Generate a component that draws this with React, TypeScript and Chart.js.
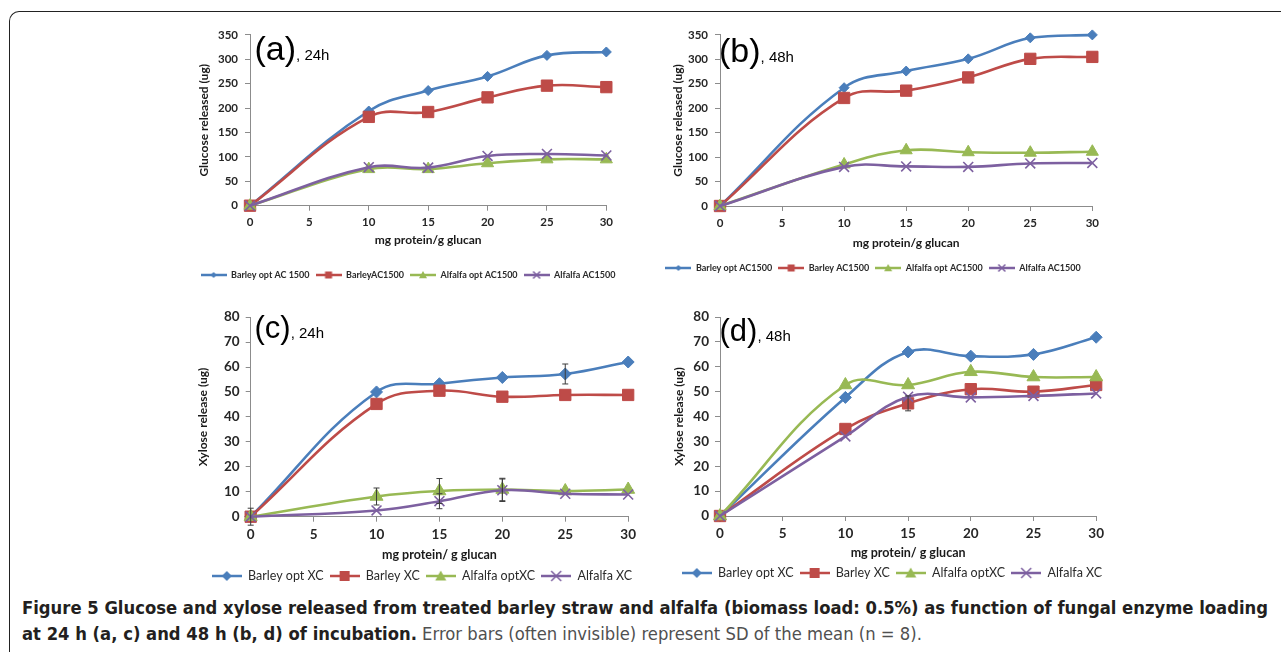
import React, { useEffect, useLayoutEffect, useRef } from 'react';
import { Chart, registerables } from 'chart.js';

Chart.register(...registerables);

// ---------- data ----------
const xValues = [0, 10, 15, 20, 25, 30];

// (a) glucose released, 24 h
const aBarleyOpt = [0, 194, 236, 265, 308, 315];
const aBarley = [0, 182, 192, 222, 246, 243];
const aAlfalfaOpt = [0, 75, 75, 87, 95, 95];
const aAlfalfa = [0, 79, 78, 102, 106, 103];

// (b) glucose released, 48 h
const bBarleyOpt = [0, 242, 276, 301, 344, 350];
const bBarley = [0, 221, 236, 263, 301, 305];
const bAlfalfaOpt = [0, 85, 114, 110, 109, 111];
const bAlfalfa = [0, 80, 81, 80, 87, 88];

// (c) xylose release, 24 h
const cBarleyOpt = [0, 50, 53.3, 55.8, 57.2, 62];
const cBarley = [0, 45.2, 50.5, 48.1, 48.8, 48.8];
const cAlfalfaOpt = [0, 8.1, 10.3, 10.9, 10.3, 10.9];
const cAlfalfa = [0, 2.5, 6.2, 10.6, 9.2, 8.9];
const cBarleyOptSD = [0, 0, 0, 0, 4, 0];
const cBarleySD = [0, 0, 0, 0, 0, 0];
const cAlfalfaOptSD = [3.4, 3.4, 5, 4.5, 0, 0];
const cAlfalfaSD = [0, 0, 3, 4.5, 0, 0];

// (d) xylose release, 48 h
const dBarleyOpt = [0, 47.7, 66, 64.3, 65, 71.9];
const dBarley = [0, 35, 45.3, 51, 50, 52.7];
const dAlfalfaOpt = [0, 52.7, 52.7, 58, 55.9, 55.9];
const dAlfalfa = [0, 32, 48, 47.7, 48.3, 49.3];
const dBarleySD = [0, 0, 3, 0, 0, 0];

const legendA = ['Barley opt AC 1500', 'BarleyAC1500', 'Alfalfa opt AC1500', 'Alfalfa AC1500'];
const legendB = ['Barley opt AC1500', 'Barley AC1500', 'Alfalfa opt AC1500', 'Alfalfa AC1500'];
const legendCD = ['Barley opt XC', 'Barley XC', 'Alfalfa optXC', 'Alfalfa XC'];

const xTickStep = 5;
const xMax = 30;
const glucoseMax = 350;
const glucoseStep = 50;
const xyloseMax = 80;
const xyloseStep = 10;

// ---------- styles ----------
const COLORS = ['#4A7EBB', '#BE4B48', '#98B954', '#7D60A0'];
const STYLES = ['rectRot', 'rect', 'triangle', 'crossRot'];
const FONT = 'Lato, "Open Sans", "DejaVu Sans", sans-serif';

function makeIcon(color: string, style: string, w: number, h: number, r: number, lw: number) {
  const c = document.createElement('canvas');
  c.width = w;
  c.height = h;
  const ctx = c.getContext('2d') as CanvasRenderingContext2D;
  const cx = w / 2;
  const cy = h / 2;
  ctx.strokeStyle = color;
  ctx.fillStyle = color;
  ctx.lineWidth = lw;
  ctx.beginPath();
  ctx.moveTo(0, cy);
  ctx.lineTo(w, cy);
  ctx.stroke();
  ctx.beginPath();
  if (style === 'rectRot') {
    ctx.moveTo(cx, cy - r);
    ctx.lineTo(cx + r, cy);
    ctx.lineTo(cx, cy + r);
    ctx.lineTo(cx - r, cy);
    ctx.closePath();
    ctx.fill();
  } else if (style === 'rect') {
    ctx.fillRect(cx - r, cy - r, 2 * r, 2 * r);
  } else if (style === 'triangle') {
    ctx.moveTo(cx, cy - r);
    ctx.lineTo(cx + r, cy + r * 0.8);
    ctx.lineTo(cx - r, cy + r * 0.8);
    ctx.closePath();
    ctx.fill();
  } else {
    ctx.lineWidth = 1.5;
    ctx.moveTo(cx - r, cy - r);
    ctx.lineTo(cx + r, cy + r);
    ctx.moveTo(cx + r, cy - r);
    ctx.lineTo(cx - r, cy + r);
    ctx.stroke();
  }
  return c;
}

const errorBarPlugin = {
  id: 'errorBars',
  afterDatasetsDraw(chart: any) {
    const ctx = chart.ctx;
    const xs = chart.scales.x;
    const ys = chart.scales.y;
    ctx.save();
    ctx.strokeStyle = '#3c3c3c';
    ctx.lineWidth = 1;
    chart.data.datasets.forEach((ds: any) => {
      const errs = ds.errors;
      if (!errs) return;
      ds.data.forEach((p: any, k: number) => {
        const e = errs[k];
        if (!e) return;
        const px = xs.getPixelForValue(p.x);
        const y1 = ys.getPixelForValue(p.y + e);
        const y2 = ys.getPixelForValue(p.y - e);
        ctx.beginPath();
        ctx.moveTo(px, y1);
        ctx.lineTo(px, y2);
        ctx.moveTo(px - 3, y1);
        ctx.lineTo(px + 3, y1);
        ctx.moveTo(px - 3, y2);
        ctx.lineTo(px + 3, y2);
        ctx.stroke();
      });
    });
    ctx.restore();
  },
};

type Series = { label: string; values: number[]; errors?: number[] };

type PanelCfg = {
  area: { left: number; right: number; top: number; bottom: number };
  yMax: number;
  yStep: number;
  yTitle: string;
  xTitle: string;
  yTitleX: number;
  xTitleY: number;
  legendY: number;
  legendCx: number;
  tickSize: number;
  yTitleSize: number;
  xTitleSize: number;
  legendSize: number;
  legendWeight: string;
  legendPad: number;
  yTickPad: number;
  xTickPad: number;
  pointRadius: number[];
  iconW: number;
  iconR: number[];
  series: Series[];
};

function Panel({ cfg }: { cfg: PanelCfg }) {
  const ref = useRef<HTMLCanvasElement>(null);
  const a = cfg.area;
  const yLH = cfg.yTitleSize * 1.2;
  const xLH = cfg.xTitleSize * 1.2;
  const canvasLeft = Math.floor(cfg.yTitleX - yLH / 2 - 40);
  const canvasTop = Math.floor(a.top - 12);
  const padTop = a.top - canvasTop;
  const canvasRight = Math.ceil(a.right + 10);
  const padR = canvasRight - a.right;
  const W = canvasRight - canvasLeft;
  const yW = a.left - canvasLeft;
  const yTitlePad = cfg.yTitleX - yLH / 2 - canvasLeft;
  const legFs = cfg.legendSize;
  const xH = cfg.legendY - legFs / 2 - cfg.legendPad - a.bottom;
  const gap = xH - (cfg.xTitleY + xLH / 2 - a.bottom);
  const legendH = legFs + cfg.legendPad + 10;
  const plotH = a.bottom - a.top;
  const H = Math.ceil(padTop + plotH + xH + legendH + 2);
  const padB = H - (padTop + plotH + xH + legendH);

  useEffect(() => {
    const canvas = ref.current as HTMLCanvasElement;
    const icons = cfg.series.map((s, i) =>
      makeIcon(COLORS[i], STYLES[i], cfg.iconW, 16, cfg.iconR[i], 2.5)
    );
    const legendShift = {
      id: 'legendShift',
      afterLayout(chart: any) {
        const lg = chart.legend;
        if (!lg) return;
        const cur = (lg.left + lg.right) / 2;
        const want = cfg.legendCx - canvasLeft;
        const dx = want - cur;
        lg.left += dx;
        lg.right += dx;
      },
    };
    const tickColor = '#262626';
    const axisColor = '#8c8c8c';
    const chart = new Chart(canvas, {
      type: 'line',
      data: {
        datasets: cfg.series.map((s, i) => ({
          label: s.label,
          data: xValues.map((x, k) => ({ x, y: s.values[k] })),
          errors: s.errors,
          borderColor: COLORS[i],
          backgroundColor: COLORS[i],
          pointBackgroundColor: COLORS[i],
          pointBorderColor: COLORS[i],
          pointStyle: STYLES[i],
          pointRadius: cfg.pointRadius[i],
          pointBorderWidth: STYLES[i] === 'crossRot' ? 1.6 : 1,
          borderWidth: 2.6,
          tension: 0.4,
          fill: false,
          clip: false,
          order: 3 - i,
        })) as any,
      },
      options: {
        animation: false,
        responsive: false,
        maintainAspectRatio: false,
        events: [],
        layout: { padding: { left: 0, right: padR, top: padTop, bottom: padB } },
        scales: {
          x: {
            type: 'linear',
            min: 0,
            max: xMax,
            afterFit: (s: any) => {
              s.height = xH;
            },
            ticks: {
              stepSize: xTickStep,
              autoSkip: false,
              maxRotation: 0,
              padding: cfg.xTickPad,
              color: tickColor,
              font: { family: FONT, size: cfg.tickSize, weight: 'bold' },
            },
            grid: { display: true, drawOnChartArea: false, drawTicks: true, tickLength: 5, color: axisColor },
            border: { display: true, color: axisColor, width: 1 },
            title: {
              display: true,
              text: cfg.xTitle,
              color: '#1a1a1a',
              padding: { top: 0, bottom: gap },
              font: { family: FONT, size: cfg.xTitleSize, weight: 'bold' },
            },
          },
          y: {
            type: 'linear',
            min: 0,
            max: cfg.yMax,
            afterFit: (s: any) => {
              s.width = yW;
            },
            ticks: {
              stepSize: cfg.yStep,
              padding: cfg.yTickPad,
              color: tickColor,
              font: { family: FONT, size: cfg.tickSize, weight: 'bold' },
            },
            grid: { display: true, drawOnChartArea: false, drawTicks: true, tickLength: 5, color: axisColor },
            border: { display: true, color: axisColor, width: 1 },
            title: {
              display: true,
              text: cfg.yTitle,
              color: '#1a1a1a',
              padding: { top: yTitlePad, bottom: 0 },
              font: { family: FONT, size: cfg.yTitleSize, weight: 'bold' },
            },
          },
        },
        plugins: {
          tooltip: { enabled: false },
          title: { display: false },
          legend: {
            display: true,
            position: 'bottom',
            labels: {
              usePointStyle: true,
              pointStyleWidth: cfg.iconW,
              padding: cfg.legendPad,
              color: '#2a2a2a',
              font: { family: FONT, size: legFs, weight: cfg.legendWeight },
              generateLabels: (chart: any) => {
                const items = (Chart.defaults.plugins.legend.labels as any).generateLabels(chart);
                items.forEach((it: any) => {
                  it.pointStyle = icons[it.datasetIndex];
                  it.lineWidth = 0;
                  it.fontColor = '#2a2a2a';
                });
                return items.sort((p: any, q: any) => p.datasetIndex - q.datasetIndex);
              },
            },
          },
        },
      } as any,
      plugins: [errorBarPlugin, legendShift],
    });
    return () => chart.destroy();
  }, []);

  return (
    <canvas
      ref={ref}
      width={W}
      height={H}
      style={{ position: 'absolute', left: canvasLeft, top: canvasTop, width: W, height: H }}
    />
  );
}

const panelA: PanelCfg = {
  area: { left: 250, right: 608, top: 33.3, bottom: 205.7 },
  yMax: glucoseMax,
  yStep: glucoseStep,
  yTitle: 'Glucose released (ug)',
  xTitle: 'mg protein/g glucan',
  yTitleX: 204,
  xTitleY: 240,
  legendY: 275,
  legendCx: 408,
  tickSize: 11.5,
  yTitleSize: 12,
  xTitleSize: 12,
  legendSize: 9,
  legendWeight: 'bold',
  legendPad: 6,
  yTickPad: 7,
  xTickPad: 5,
  pointRadius: [5, 8, 7, 7],
  iconW: 26,
  iconR: [3, 3.5, 4, 3.5],
  series: [
    { label: legendA[0], values: aBarleyOpt },
    { label: legendA[1], values: aBarley },
    { label: legendA[2], values: aAlfalfaOpt },
    { label: legendA[3], values: aAlfalfa },
  ],
};

const panelB: PanelCfg = {
  ...panelA,
  area: { left: 720, right: 1094, top: 33.3, bottom: 206 },
  yTitleX: 678,
  xTitleY: 242.7,
  legendY: 268,
  legendCx: 873,
  series: [
    { label: legendB[0], values: bBarleyOpt },
    { label: legendB[1], values: bBarley },
    { label: legendB[2], values: bAlfalfaOpt },
    { label: legendB[3], values: bAlfalfa },
  ],
};

const panelC: PanelCfg = {
  area: { left: 250.7, right: 630.7, top: 315.7, bottom: 516.7 },
  yMax: xyloseMax,
  yStep: xyloseStep,
  yTitle: 'Xylose release (ug)',
  xTitle: 'mg protein/ g glucan',
  yTitleX: 203,
  xTitleY: 555,
  legendY: 576,
  legendCx: 422,
  tickSize: 13.5,
  yTitleSize: 12,
  xTitleSize: 12.5,
  legendSize: 12.5,
  legendWeight: 'normal',
  legendPad: 6,
  yTickPad: 6,
  xTickPad: 5,
  pointRadius: [6, 8, 7.5, 7],
  iconW: 30,
  iconR: [5, 5, 5.5, 5],
  series: [
    { label: legendCD[0], values: cBarleyOpt, errors: cBarleyOptSD },
    { label: legendCD[1], values: cBarley, errors: cBarleySD },
    { label: legendCD[2], values: cAlfalfaOpt, errors: cAlfalfaOptSD },
    { label: legendCD[3], values: cAlfalfa, errors: cAlfalfaSD },
  ],
};

const panelD: PanelCfg = {
  ...panelC,
  area: { left: 720, right: 1099, top: 315.7, bottom: 516 },
  yTitleX: 679,
  xTitleY: 553,
  legendY: 573,
  legendCx: 892,
  series: [
    { label: legendCD[0], values: dBarleyOpt },
    { label: legendCD[1], values: dBarley, errors: dBarleySD },
    { label: legendCD[2], values: dAlfalfaOpt },
    { label: legendCD[3], values: dAlfalfa },
  ],
};

function PanelLabel({ left, baseline, size, big, small }: any) {
  const top = baseline - 0.8465 * size;
  return (
    <div
      style={{
        position: 'absolute',
        left,
        top,
        fontFamily: '"Liberation Sans", Arial, sans-serif',
        fontSize: size,
        lineHeight: `${size}px`,
        color: '#000',
        whiteSpace: 'nowrap',
      }}
    >
      {big}
      <span style={{ fontSize: 15 }}>{small}</span>
    </div>
  );
}

function Caption() {
  const l1 = useRef<HTMLSpanElement>(null);
  const l2 = useRef<HTMLSpanElement>(null);
  useLayoutEffect(() => {
    const fit = () => {
      const s1 = l1.current as HTMLSpanElement;
      const s2 = l2.current as HTMLSpanElement;
      if (!s1 || !s2) return;
      s1.style.transform = 'none';
      s2.style.transform = 'none';
      const w = s1.getBoundingClientRect().width;
      if (w > 0) {
        const k = 1246 / w;
        s1.style.transform = `scaleX(${k})`;
        s2.style.transform = `scaleX(${k})`;
      }
    };
    fit();
    if ((document as any).fonts && (document as any).fonts.ready) {
      (document as any).fonts.ready.then(fit);
    }
  }, []);
  const base: React.CSSProperties = {
    position: 'absolute',
    left: 22,
    whiteSpace: 'nowrap',
    fontFamily: '"Liberation Sans Narrow", "DejaVu Sans Condensed", "Liberation Sans", sans-serif',
    fontSize: 17,
    lineHeight: '20px',
    display: 'inline-block',
    transformOrigin: '0 50%',
  };
  return (
    <>
      <span ref={l1} style={{ ...base, top: 598, fontWeight: 'bold', color: '#231f20' }}>
        Figure 5 Glucose and xylose released from treated barley straw and alfalfa (biomass load: 0.5%) as function of fungal enzyme loading
      </span>
      <span ref={l2} style={{ ...base, top: 624, color: '#505050' }}>
        <b style={{ color: '#231f20' }}>at 24 h (a, c) and 48 h (b, d) of incubation.</b> Error bars (often invisible) represent SD of the mean (n = 8).
      </span>
    </>
  );
}

export default function App() {
  return (
    <div
      style={{
        position: 'fixed',
        left: 0,
        top: 0,
        width: 1281,
        height: 652,
        overflow: 'hidden',
        background: '#fff',
      }}
    >
      <div
        style={{
          position: 'absolute',
          left: 9,
          top: 11,
          width: 1400,
          height: 800,
          borderTop: '1.5px solid #222',
          borderLeft: '1.5px solid #222',
          borderTopLeftRadius: 10,
        }}
      />
      <Panel cfg={panelA} />
      <Panel cfg={panelB} />
      <Panel cfg={panelC} />
      <Panel cfg={panelD} />
      <PanelLabel left={254.5} baseline={60} size={34} big="(a)" small=", 24h" />
      <PanelLabel left={719} baseline={62} size={34} big="(b)" small=", 48h" />
      <PanelLabel left={254.5} baseline={338.5} size={31} big="(c)" small=", 24h" />
      <PanelLabel left={719.5} baseline={341} size={31} big="(d)" small=", 48h" />
      <Caption />
    </div>
  );
}
